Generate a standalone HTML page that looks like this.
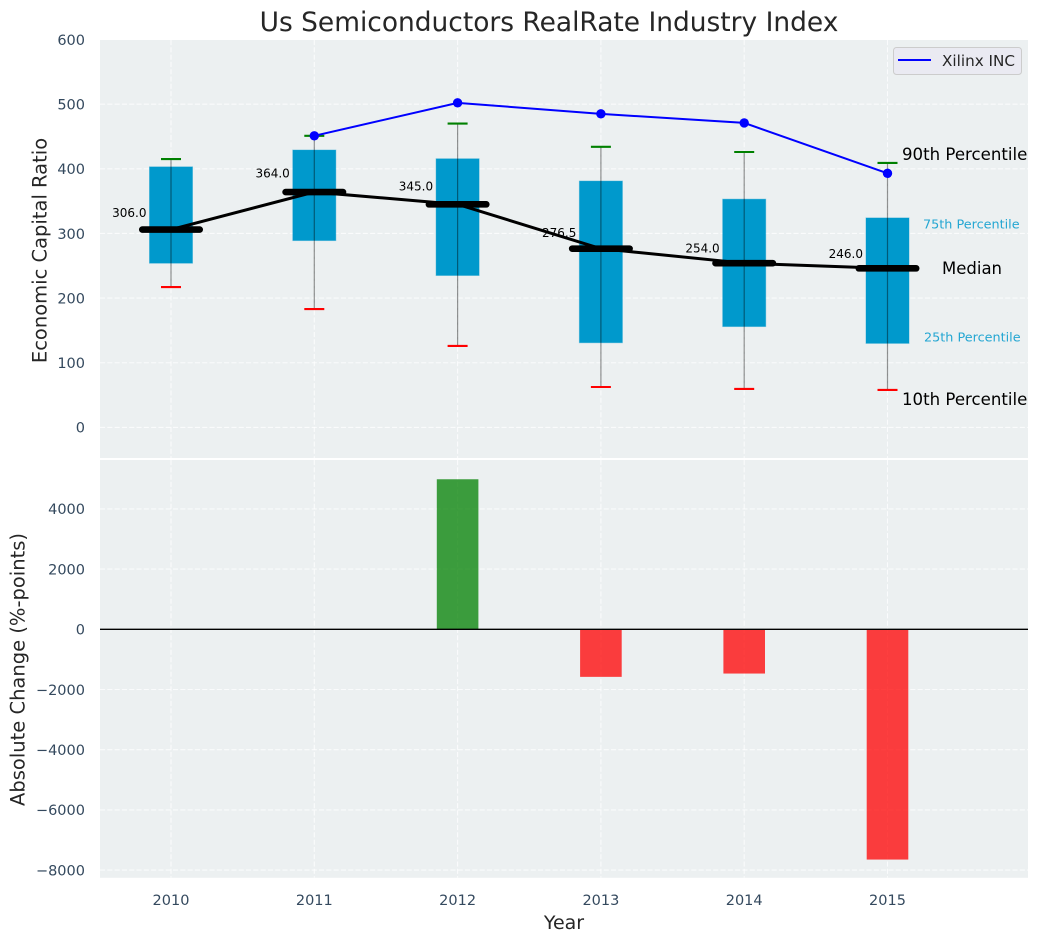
<!DOCTYPE html>
<html lang="en">
<head>
<meta charset="utf-8">
<title>Us Semiconductors RealRate Industry Index</title>
<style>
html,body{margin:0;padding:0;background:#fff;}
svg{display:block;font-family:"DejaVu Sans","Liberation Sans",sans-serif;}
</style>
</head>
<body>
<svg id="chart" xmlns="http://www.w3.org/2000/svg" width="1039" height="942" viewBox="0 0 1039 942">
  <rect width="1039" height="942" fill="#ffffff"/>
  <rect x="100" y="40" width="928" height="418" fill="#ecf0f1"/>
  <rect x="100" y="460" width="928" height="417.8" fill="#ecf0f1"/>
  <g id="grid"></g>
  <g id="bars"></g>
  <g id="boxes"></g>
  <g id="lines"></g>
  <g id="ticks"></g>
  <text x="549" y="31" font-size="26.45" fill="#262626" text-anchor="middle">Us Semiconductors RealRate Industry Index</text>
  <text transform="translate(46.5 250.5) rotate(-90)" font-size="19.5" fill="#262626" text-anchor="middle">Economic Capital Ratio</text>
  <text transform="translate(24.5 669.5) rotate(-90)" font-size="19.5" fill="#262626" text-anchor="middle">Absolute Change (%-points)</text>
  <text x="564" y="929" font-size="19" fill="#262626" text-anchor="middle">Year</text>
  <text x="902" y="160" font-size="16.6" fill="#000000">90th Percentile</text>
  <text x="923" y="228.5" font-size="12.8" fill="#0099cc" fill-opacity="0.85">75th Percentile</text>
  <text x="942" y="274" font-size="16.5" fill="#000000">Median</text>
  <text x="924" y="341.5" font-size="12.8" fill="#0099cc" fill-opacity="0.85">25th Percentile</text>
  <text x="902" y="405" font-size="16.6" fill="#000000">10th Percentile</text>
  <g>
    <rect x="893.5" y="47.5" width="128" height="27" rx="3" fill="#eaeaf2" stroke="#cccccc" stroke-width="1"/>
    <line x1="898" y1="60" x2="931" y2="60" stroke="#0000ff" stroke-width="2"/>
    <text x="942" y="66" font-size="15.2" fill="#262626">Xilinx INC</text>
  </g>
</svg>
<script>
var years = [2010, 2011, 2012, 2013, 2014, 2015];
var p90 = [415, 451, 470, 434, 426, 409];
var p75 = [403, 429, 415.5, 381, 353, 324];
var medians = [306, 364, 345, 276.5, 254, 246];
var p25 = [254, 289, 235, 131, 156, 130];
var p10 = [217, 183, 126, 62.5, 59.5, 58];
var medianLabels = ["306.0", "364.0", "345.0", "276.5", "254.0", "246.0"];
var xilinxYears = [2011, 2012, 2013, 2014, 2015];
var xilinxValues = [451, 502, 485, 471, 393];
var changes = [0, 0, 4985, -1580, -1470, -7650];
var topTicks = [0, 100, 200, 300, 400, 500, 600];
var bottomTicks = [4000, 2000, 0, -2000, -4000, -6000, -8000];
var bottomTickLabels = ["4000", "2000", "0", "\u22122000", "\u22124000", "\u22126000", "\u22128000"];

var NS = "http://www.w3.org/2000/svg";
function xScale(v) { return 171 + (v - 2010) * 143.3; }
function yTop(v) { return 427.4 - v * 0.6465; }
function yBottom(v) { return 629.3 - v * 0.0301; }
function make(parent, tag, attrs, text) {
  var el = document.createElementNS(NS, tag);
  for (var k in attrs) { el.setAttribute(k, attrs[k]); }
  if (text !== undefined) { el.textContent = text; }
  parent.appendChild(el);
  return el;
}
var gridG = document.getElementById("grid");
var barsG = document.getElementById("bars");
var boxesG = document.getElementById("boxes");
var linesG = document.getElementById("lines");
var ticksG = document.getElementById("ticks");
var gridStyle = {stroke: "#ffffff", "stroke-width": 1.1, "stroke-opacity": 0.75, "stroke-dasharray": "5.1 2.2"};
function gridLine(x1, y1, x2, y2) {
  var attrs = {x1: x1, y1: y1, x2: x2, y2: y2};
  for (var k in gridStyle) { attrs[k] = gridStyle[k]; }
  var el = make(gridG, "line", attrs);
  
  
}

topTicks.forEach(function (t) {
  gridLine(100, yTop(t), 1028, yTop(t));
  var label = make(ticksG, "text", {x: 85, y: yTop(t) + 5.3, "font-size": 14.5, fill: "#34495e", "text-anchor": "end"}, String(t));
  
  
});
bottomTicks.forEach(function (t, i) {
  gridLine(100, yBottom(t), 1028, yBottom(t));
  var label = make(ticksG, "text", {x: 85, y: yBottom(t) + 5.3, "font-size": 14.5, fill: "#34495e", "text-anchor": "end"}, bottomTickLabels[i]);
  
  
});
years.forEach(function (yr) {
  var x = xScale(yr);
  gridLine(x, 40, x, 458);
  gridLine(x, 460, x, 877.8);
  var label = make(ticksG, "text", {x: x, y: 905, "font-size": 14.5, fill: "#34495e", "text-anchor": "middle"}, String(yr));
  
  
});

changes.forEach(function (c, i) {
  if (c === 0) { return; }
  var x = xScale(years[i]);
  var y0 = yBottom(0), y1 = yBottom(c);
  var bar = make(barsG, "rect", {
    x: x - 20.8, y: Math.min(y0, y1), width: 41.6, height: Math.abs(y1 - y0),
    fill: c > 0 ? "#008000" : "#ff0000", "fill-opacity": 0.75
  });
  
  
});
var zero = make(barsG, "line", {x1: 100, y1: yBottom(0), x2: 1028, y2: yBottom(0), stroke: "#000000", "stroke-width": 1.3});



years.forEach(function (yr, i) {
  var x = xScale(yr);
  var box = make(boxesG, "rect", {
    x: x - 21.5, y: yTop(p75[i]), width: 43, height: yTop(p25[i]) - yTop(p75[i]),
    fill: "#0099cc", stroke: "#0099cc", "stroke-opacity": 0.4, "stroke-width": 1
  });
  
  
});

function polyline(xs, ys, color, width, name) {
  var pts = xs.map(function (v, i) { return xScale(v) + "," + ys[i]; }).join(" ");
  var el = make(linesG, "polyline", {points: pts, fill: "none", stroke: color, "stroke-width": width});
  
  
}
polyline(years, medians.map(yTop), "#000000", 3, "median-trend-line");

years.forEach(function (yr, i) {
  var x = xScale(yr);
  var med = make(linesG, "line", {x1: x - 28.7, y1: yTop(medians[i]), x2: x + 28.7, y2: yTop(medians[i]), stroke: "#000000", "stroke-width": 6.6, "stroke-linecap": "round"});
  
  
  var whisker = make(linesG, "line", {x1: x, y1: yTop(p90[i]), x2: x, y2: yTop(p10[i]), stroke: "#000000", "stroke-opacity": 0.42, "stroke-width": 1.2});
  
  
  var capTop = make(linesG, "line", {x1: x - 10, y1: yTop(p90[i]), x2: x + 10, y2: yTop(p90[i]), stroke: "#008000", "stroke-width": 2.1});
  
  
  var capBottom = make(linesG, "line", {x1: x - 10, y1: yTop(p10[i]), x2: x + 10, y2: yTop(p10[i]), stroke: "#ff0000", "stroke-width": 2.1});
  
  
  var lab = make(linesG, "text", {x: x - 24.5, y: yTop(medians[i] * 1.05) - 2.6, "font-size": 12, fill: "#000000", "text-anchor": "end"}, medianLabels[i]);
  
  
});

polyline(xilinxYears, xilinxValues.map(yTop), "#0000ff", 2, "xilinx-line");
xilinxYears.forEach(function (yr, i) {
  var dot = make(linesG, "circle", {cx: xScale(yr), cy: yTop(xilinxValues[i]), r: 4.7, fill: "#0000ff"});
  
  
});
</script>
</body>
</html>
